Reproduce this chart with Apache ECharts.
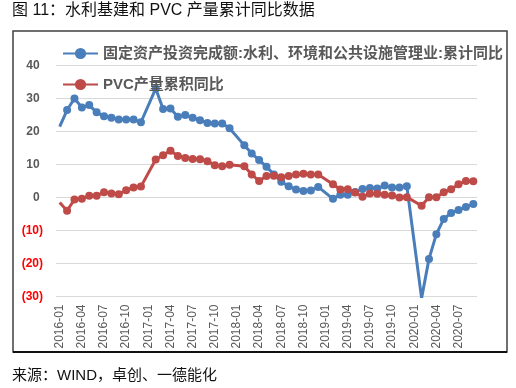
<!DOCTYPE html>
<html><head><meta charset="utf-8">
<script src="https://cdn.jsdelivr.net/npm/echarts@6/dist/echarts.min.js"></script>
<style>html,body{margin:0;padding:0;background:#fff}#c{width:516px;height:388px}</style>
</head><body><div id="c"></div>
<script>
const months = [
 '2016-01','2016-02','2016-03','2016-04','2016-05','2016-06','2016-07','2016-08','2016-09','2016-10','2016-11','2016-12',
 '2017-01','2017-02','2017-03','2017-04','2017-05','2017-06','2017-07','2017-08','2017-09','2017-10','2017-11','2017-12',
 '2018-01','2018-02','2018-03','2018-04','2018-05','2018-06','2018-07','2018-08','2018-09','2018-10','2018-11','2018-12',
 '2019-01','2019-02','2019-03','2019-04','2019-05','2019-06','2019-07','2019-08','2019-09','2019-10','2019-11','2019-12',
 '2020-01','2020-02','2020-03','2020-04','2020-05','2020-06','2020-07','2020-08','2020-09'
];
const waterInvest = [
 21.5, 26.5, 30.0, 27.3, 28.0, 25.8, 24.6, 24.2, 23.6, 23.6, 23.6, 22.8,
 null, 33.0, 26.8, 27.0, 24.5, 25.0, 24.2, 23.4, 22.6, 22.4, 22.4, 21.0,
 null, 15.8, 13.3, 11.4, 9.3, 7.0, 4.8, 3.4, 2.4, 2.0, 2.1, 3.2,
 null, -0.4, 0.8, 0.8, 1.7, 2.6, 2.9, 2.7, 3.6, 3.0, 3.0, 3.4,
 null, -30.5, -18.6, -11.1, -6.5, -4.7, -3.8, -2.9, -2.0
];
const pvcOutput = [
 -1.5, -4.0, -0.6, -0.4, 0.5, 0.5, 1.6, 1.2, 1.0, 2.2, 3.0, 3.3,
 null, 11.5, 12.8, 14.2, 12.6, 12.0, 11.7, 11.6, 11.0, 9.8, 9.5, 9.9,
 null, 9.5, 7.0, 5.0, 6.5, 6.6, 6.1, 6.5, 7.0, 7.2, 7.0, 7.0,
 null, 4.0, 2.4, 2.5, 1.5, 0.2, 1.2, 1.1, 0.8, 0.6, 0.0, 0.1,
 null, -2.5, 0.1, 0.1, 1.6, 2.5, 4.0, 5.0, 4.9
];
const seriesNames = ['固定资产投资完成额:水利、环境和公共设施管理业:累计同比', 'PVC产量累积同比'];
const yMin = -30, yMax = 40, yStep = 10;
const titleText = '图 11：水利基建和 PVC 产量累计同比数据';
const sourceText = '来源：WIND，卓创、一德能化';

const FONT = "'Liberation Sans', 'Noto Sans CJK SC', sans-serif";
const BLUE = '#4A7EBB', RED = '#BE4B48';
function toData(arr){ return arr.map((v,i)=> i===0 ? {value:v, symbol:'none'} : v); }

const chart = echarts.init(document.getElementById('c'), null, {renderer:'canvas'});
const legendText = {color:'#595959', fontWeight:'bold', fontSize:15, fontFamily:FONT};
chart.setOption({
  animation:false,
  backgroundColor:'#fff',
  grid:{left:56, right:39, top:65.5, bottom:91.5, containLabel:false},
  legend:[
    {data:[seriesNames[0]], left:62, top:46, padding:0, itemWidth:35, itemHeight:14, textStyle:legendText},
    {data:[seriesNames[1]], left:62, top:77, padding:0, itemWidth:35, itemHeight:14, textStyle:legendText}
  ],
  xAxis:{
    type:'category', data:months, boundaryGap:true,
    axisLine:{show:false, onZero:false}, axisTick:{show:false},
    axisLabel:{interval:2, rotate:90, margin:8, fontSize:12, color:'#595959', fontFamily:FONT}
  },
  yAxis:{
    type:'value', min:yMin, max:yMax, interval:yStep,
    axisLine:{show:false}, axisTick:{show:false},
    splitLine:{lineStyle:{color:'#D9D9D9', width:1}},
    axisLabel:{
      margin:13, fontSize:12, fontWeight:'bold', fontFamily:FONT,
      formatter:v=> v<0 ? '('+Math.abs(v)+')' : v+' ',
      color:v=> (+v<0 ? '#FF0000' : '#595959')
    }
  },
  series:[
    {name:seriesNames[0], type:'line', data:toData(waterInvest), connectNulls:true, showAllSymbol:true,
     symbol:'circle', symbolSize:8, color:BLUE, lineStyle:{width:3, color:BLUE}, itemStyle:{color:BLUE}},
    {name:seriesNames[1], type:'line', data:toData(pvcOutput), connectNulls:true, showAllSymbol:true,
     symbol:'circle', symbolSize:8, color:RED, lineStyle:{width:3, color:RED}, itemStyle:{color:RED}}
  ],
  graphic:[
    {type:'rect', shape:{x:13, y:31, width:494, height:321}, style:{fill:null, stroke:'#404040', lineWidth:1.5}, silent:true},
    {type:'line', shape:{x1:13, y1:352, x2:507, y2:352}, style:{stroke:'#111', lineWidth:2}, silent:true},
    {type:'text', left:12, top:3, style:{text:titleText, fontSize:16, fill:'#111', fontFamily:FONT}},
    {type:'text', left:12, top:368, style:{text:sourceText, fontSize:15, fill:'#111', fontFamily:FONT}}
  ]
});
</script></body></html>
